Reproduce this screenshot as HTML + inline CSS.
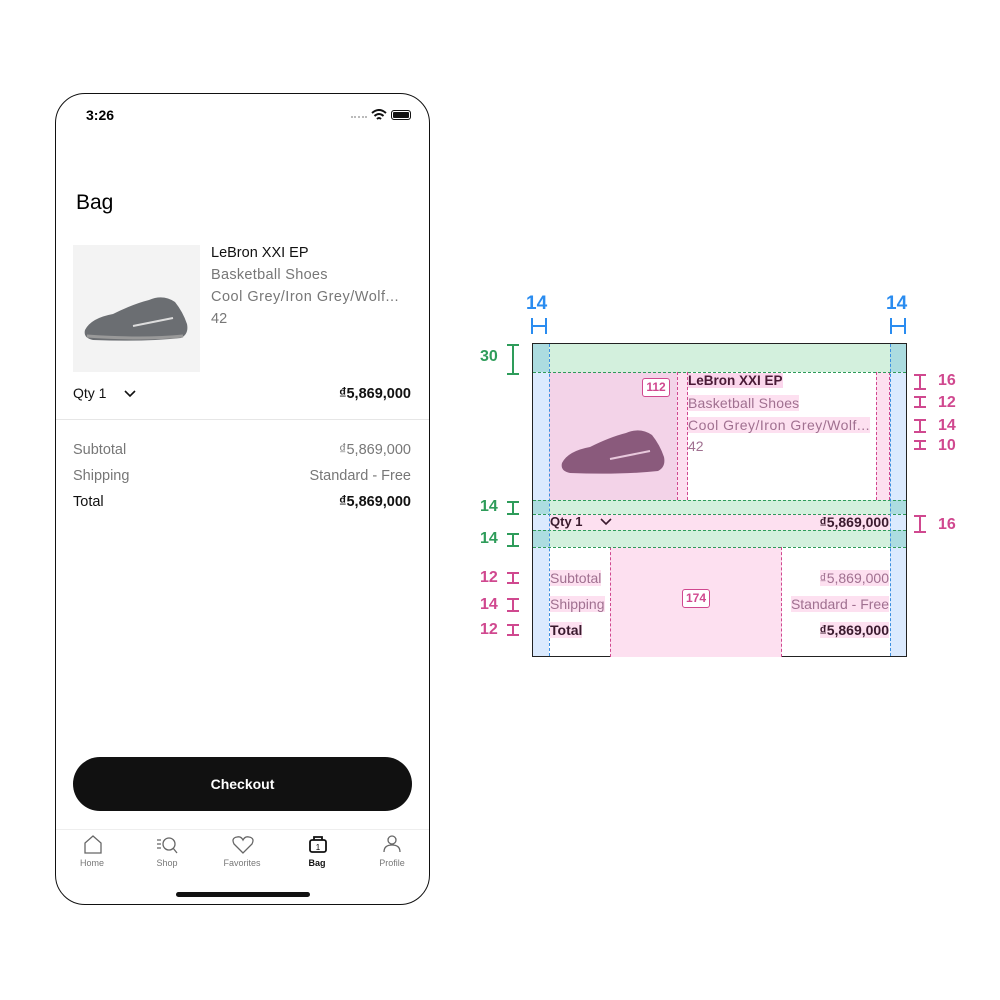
<!DOCTYPE html>
<html><head><style>
body{margin:0;width:1000px;height:1000px;background:#fff;position:relative;font-family:"Liberation Sans",sans-serif;overflow:hidden}
.a{position:absolute}
.t{position:absolute;white-space:nowrap}
.g{color:#777}
.dk{color:#111}
.br{position:absolute;width:12px;border-top:2px solid;border-bottom:2px solid}
.br:after{content:"";position:absolute;left:5px;top:0;bottom:0;border-left:2px solid}
.lbl{position:absolute;font-weight:bold;font-size:16px}
.nav{position:absolute;top:858px;font-size:9px;color:#777;text-align:center;width:60px}
</style></head><body>
<!-- phone -->
<div class="a" style="left:55px;top:93px;width:373px;height:810px;border:1.5px solid #111;border-radius:30px"></div>
<div class="t" style="left:86px;top:107px;font-size:14px;font-weight:bold">3:26</div>
<div class="a" style="left:351px;top:116px;width:16px;height:3px;border-top:2px dotted #bbb"></div>
<svg class="a" style="left:371px;top:109px" width="16" height="12"><path d="M1 4 Q8 -2 15 4 M3.5 7 Q8 3 12.5 7 M6 10 Q8 8 10 10" stroke="#111" stroke-width="2" fill="none"/></svg>
<div class="a" style="left:391px;top:110px;width:18px;height:8px;border:1px solid #111;border-radius:3px;background:#111;box-shadow:inset 0 0 0 1px #fff"></div>
<div class="t" style="left:76px;top:191px;font-size:21px">Bag</div>
<div class="a" style="left:73px;top:245px;width:127px;height:127px;background:#f3f3f3"></div>
<svg class="a" style="left:83px;top:292px" width="108" height="50"><path d="M2 38 Q8 26 30 22 Q50 12 66 8 Q80 2 92 10 Q100 20 104 32 Q106 42 98 46 Q60 50 10 48 Q0 46 2 38Z" fill="#6b6e72"/><path d="M50 34 Q70 30 90 26" stroke="#ddd" stroke-width="2" fill="none"/><path d="M4 44 Q60 48 100 44" stroke="#999" stroke-width="3" fill="none"/></svg>
<div class="t dk" style="left:211px;top:245px;font-size:14.5px">LeBron XXI EP</div>
<div class="t g" style="left:211px;top:267px;font-size:14.5px;letter-spacing:0.3px">Basketball Shoes</div>
<div class="t g" style="left:211px;top:289px;font-size:14.5px;letter-spacing:0.5px">Cool Grey/Iron Grey/Wolf...</div>
<div class="t g" style="left:211px;top:311px;font-size:14.5px">42</div>
<div class="t dk" style="left:73px;top:385px;font-size:14px">Qty 1</div>
<svg class="a" style="left:123px;top:389px" width="14" height="9"><path d="M2 2 L7 7 L12 2" stroke="#111" stroke-width="1.6" fill="none"/></svg>
<div class="t dk" style="right:589px;top:386px;font-size:14.5px;font-weight:bold">₫5,869,000</div>
<div class="a" style="left:56px;top:419px;width:373px;height:1px;background:#e6e6e6"></div>
<div class="t g" style="left:73px;top:442px;font-size:14.5px">Subtotal</div>
<div class="t g" style="right:589px;top:442px;font-size:14.5px">₫5,869,000</div>
<div class="t g" style="left:73px;top:468px;font-size:14.5px">Shipping</div>
<div class="t g" style="right:589px;top:468px;font-size:14.5px">Standard - Free</div>
<div class="t dk" style="left:73px;top:494px;font-size:14.5px">Total</div>
<div class="t dk" style="right:589px;top:494px;font-size:14.5px;font-weight:bold">₫5,869,000</div>
<div class="a" style="left:73px;top:757px;width:339px;height:54px;background:#111;border-radius:27px;color:#fff;font-size:14px;font-weight:bold;text-align:center;line-height:54px">Checkout</div>
<div class="a" style="left:56px;top:829px;width:373px;height:1px;background:#eee"></div>
<svg class="a" style="left:83px;top:835px" width="20" height="20"><path d="M2 18 V8 L10 1 L18 8 V18 Z" stroke="#666" stroke-width="1.3" fill="none"/></svg>
<svg class="a" style="left:156px;top:835px" width="24" height="20"><path d="M1 5h4M1 9h4M1 13h4" stroke="#666" stroke-width="1.3"/><circle cx="13" cy="9" r="6" stroke="#666" stroke-width="1.3" fill="none"/><path d="M17 13 L21 18" stroke="#666" stroke-width="1.3"/></svg>
<svg class="a" style="left:232px;top:835px" width="22" height="20"><path d="M11 18 L2 9 Q-1 3 5 2 Q9 1 11 5 Q13 1 17 2 Q23 3 20 9 Z" stroke="#666" stroke-width="1.3" fill="none"/></svg>
<svg class="a" style="left:308px;top:834px" width="20" height="20"><rect x="2" y="6" width="16" height="12" rx="2" stroke="#111" stroke-width="1.8" fill="none"/><path d="M6 6 V3 h8 v3" stroke="#111" stroke-width="1.8" fill="none"/><text x="10" y="16" font-size="8" text-anchor="middle" font-family="Liberation Sans">1</text></svg>
<svg class="a" style="left:382px;top:834px" width="20" height="20"><circle cx="10" cy="6" r="4" stroke="#666" stroke-width="1.3" fill="none"/><path d="M2 18 Q2 11 10 11 Q18 11 18 18" stroke="#666" stroke-width="1.3" fill="none"/></svg>
<div class="nav" style="left:62px">Home</div>
<div class="nav" style="left:137px">Shop</div>
<div class="nav" style="left:212px">Favorites</div>
<div class="nav" style="left:287px;color:#111;font-weight:bold">Bag</div>
<div class="nav" style="left:362px">Profile</div>
<div class="a" style="left:176px;top:892px;width:134px;height:5px;background:#111;border-radius:3px"></div>

<!-- diagram -->
<div class="a" style="left:532px;top:343px;width:375px;height:314px;border:1px solid #222;box-sizing:border-box"></div>
<div class="a" style="left:533px;top:344px;width:16px;height:312px;background:#dbeafe"></div>
<div class="a" style="left:890px;top:344px;width:16px;height:312px;background:#dbeafe"></div>
<div class="a" style="left:533px;top:344px;width:373px;height:28px;background:#d3f0dd"></div>
<div class="a" style="left:533px;top:500px;width:373px;height:14px;background:#d3f0dd"></div>
<div class="a" style="left:533px;top:530px;width:373px;height:17px;background:#d3f0dd"></div>
<div class="a" style="left:533px;top:344px;width:16px;height:28px;background:#acdce0"></div>
<div class="a" style="left:890px;top:344px;width:16px;height:28px;background:#acdce0"></div>
<div class="a" style="left:533px;top:500px;width:16px;height:14px;background:#acdce0"></div>
<div class="a" style="left:890px;top:500px;width:16px;height:14px;background:#acdce0"></div>
<div class="a" style="left:533px;top:530px;width:16px;height:17px;background:#acdce0"></div>
<div class="a" style="left:890px;top:530px;width:16px;height:17px;background:#acdce0"></div>
<div class="a" style="left:549px;top:372px;width:128px;height:128px;background:#f3d3e8"></div>
<div class="a" style="left:677px;top:372px;width:11px;height:128px;background:#fde0f0;border-left:1px dashed #d0488f;border-right:1px dashed #d0488f;box-sizing:border-box"></div>
<div class="a" style="left:876px;top:372px;width:14px;height:128px;background:#fde0f0;border-left:1px dashed #d0488f;border-right:1px dashed #d0488f;box-sizing:border-box"></div>
<div class="a" style="left:549px;top:514px;width:341px;height:16px;background:#fde0f0"></div>
<div class="a" style="left:610px;top:547px;width:172px;height:110px;background:#fde0f0;border-left:1px dashed #d0488f;border-right:1px dashed #d0488f;box-sizing:border-box"></div>
<svg class="a" style="left:560px;top:425px" width="108" height="50"><path d="M2 38 Q8 26 30 22 Q50 12 66 8 Q80 2 92 10 Q100 20 104 32 Q106 42 98 46 Q60 50 10 48 Q0 46 2 38Z" fill="#8a5a7c"/><path d="M50 34 Q70 30 90 26" stroke="#e8c8dc" stroke-width="2" fill="none"/></svg>
<div class="a" style="left:642px;top:378px;width:26px;height:17px;border:1.5px solid #d0488f;border-radius:3px;background:#fff;color:#d0488f;font-size:12px;font-weight:bold;text-align:center;line-height:17px">112</div>
<div class="a" style="left:682px;top:589px;width:26px;height:17px;border:1.5px solid #d0488f;border-radius:3px;background:#fff;color:#d0488f;font-size:12px;font-weight:bold;text-align:center;line-height:17px">174</div>
<!-- text on diagram -->
<div class="t" style="left:688px;top:373px;font-size:13.5px;font-weight:bold;color:#4a1a36;background:#fbd6ec">LeBron XXI EP</div>
<div class="t" style="left:688px;top:395px;font-size:14px;letter-spacing:0.2px;color:#a07090;background:#fde0f0">Basketball Shoes</div>
<div class="t" style="left:688px;top:417px;font-size:14px;letter-spacing:0.5px;color:#a07090;background:#fde0f0">Cool Grey/Iron Grey/Wolf...</div>
<div class="t" style="left:688px;top:438px;font-size:14px;color:#a07090">42</div>
<div class="t" style="left:550px;top:514px;font-size:13px;font-weight:bold;color:#3a1a2e">Qty 1</div>
<svg class="a" style="left:599px;top:517px" width="14" height="9"><path d="M2 2 L7 7 L12 2" stroke="#3a1a2e" stroke-width="1.6" fill="none"/></svg>
<div class="t" style="right:111px;top:514px;font-size:14px;font-weight:bold;color:#3a1a2e">₫5,869,000</div>
<div class="t" style="left:550px;top:570px;font-size:14px;color:#a07090;background:#fde0f0">Subtotal</div>
<div class="t" style="right:111px;top:570px;font-size:14px;color:#a07090;background:#fde0f0">₫5,869,000</div>
<div class="t" style="left:550px;top:596px;font-size:14px;color:#a07090;background:#fde0f0">Shipping</div>
<div class="t" style="right:111px;top:596px;font-size:14px;color:#a07090;background:#fde0f0">Standard - Free</div>
<div class="t" style="left:550px;top:622px;font-size:14px;font-weight:bold;color:#3a1a2e;background:#fde0f0">Total</div>
<div class="t" style="right:111px;top:622px;font-size:14px;font-weight:bold;color:#3a1a2e;background:#fde0f0">₫5,869,000</div>
<!-- dashed guides -->
<div class="a" style="left:533px;top:372px;width:373px;border-top:1px dashed #2e9c5a"></div>
<div class="a" style="left:533px;top:500px;width:373px;border-top:1px dashed #2e9c5a"></div>
<div class="a" style="left:533px;top:514px;width:373px;border-top:1px dashed #2e9c5a"></div>
<div class="a" style="left:533px;top:530px;width:373px;border-top:1px dashed #2e9c5a"></div>
<div class="a" style="left:533px;top:547px;width:373px;border-top:1px dashed #2e9c5a"></div>
<div class="a" style="left:549px;top:344px;height:312px;border-left:1px dashed #3b8fe0"></div>
<div class="a" style="left:890px;top:344px;height:312px;border-left:1px dashed #3b8fe0"></div>
<!-- blue labels -->
<div class="lbl" style="left:526px;top:293px;color:#2a8cf0;font-size:19px">14</div>
<div class="lbl" style="left:886px;top:293px;color:#2a8cf0;font-size:19px">14</div>
<svg class="a" style="left:530px;top:316px" width="20" height="20"><path d="M2 2V18M16 2V18M2 10H16" stroke="#2a8cf0" stroke-width="2" fill="none"/></svg>
<svg class="a" style="left:889px;top:316px" width="20" height="20"><path d="M2 2V18M16 2V18M2 10H16" stroke="#2a8cf0" stroke-width="2" fill="none"/></svg>
<!-- left labels -->
<div class="lbl" style="left:480px;top:348px;color:#2e9c5a">30</div>
<div class="br" style="left:507px;top:344px;height:27px;color:#2e9c5a"></div>
<div class="lbl" style="left:480px;top:498px;color:#2e9c5a">14</div>
<div class="br" style="left:507px;top:501px;height:10px;color:#2e9c5a"></div>
<div class="lbl" style="left:480px;top:530px;color:#2e9c5a">14</div>
<div class="br" style="left:507px;top:533px;height:10px;color:#2e9c5a"></div>
<div class="lbl" style="left:480px;top:569px;color:#d0488f">12</div>
<div class="br" style="left:507px;top:572px;height:8px;color:#d0488f"></div>
<div class="lbl" style="left:480px;top:596px;color:#d0488f">14</div>
<div class="br" style="left:507px;top:598px;height:10px;color:#d0488f"></div>
<div class="lbl" style="left:480px;top:621px;color:#d0488f">12</div>
<div class="br" style="left:507px;top:624px;height:8px;color:#d0488f"></div>
<!-- right labels -->
<div class="br" style="left:914px;top:374px;height:12px;color:#d0488f"></div>
<div class="lbl" style="left:938px;top:372px;color:#d0488f">16</div>
<div class="br" style="left:914px;top:396px;height:8px;color:#d0488f"></div>
<div class="lbl" style="left:938px;top:394px;color:#d0488f">12</div>
<div class="br" style="left:914px;top:419px;height:10px;color:#d0488f"></div>
<div class="lbl" style="left:938px;top:417px;color:#d0488f">14</div>
<div class="br" style="left:914px;top:440px;height:6px;color:#d0488f"></div>
<div class="lbl" style="left:938px;top:437px;color:#d0488f">10</div>
<div class="br" style="left:914px;top:515px;height:14px;color:#d0488f"></div>
<div class="lbl" style="left:938px;top:516px;color:#d0488f">16</div>
</body></html>
